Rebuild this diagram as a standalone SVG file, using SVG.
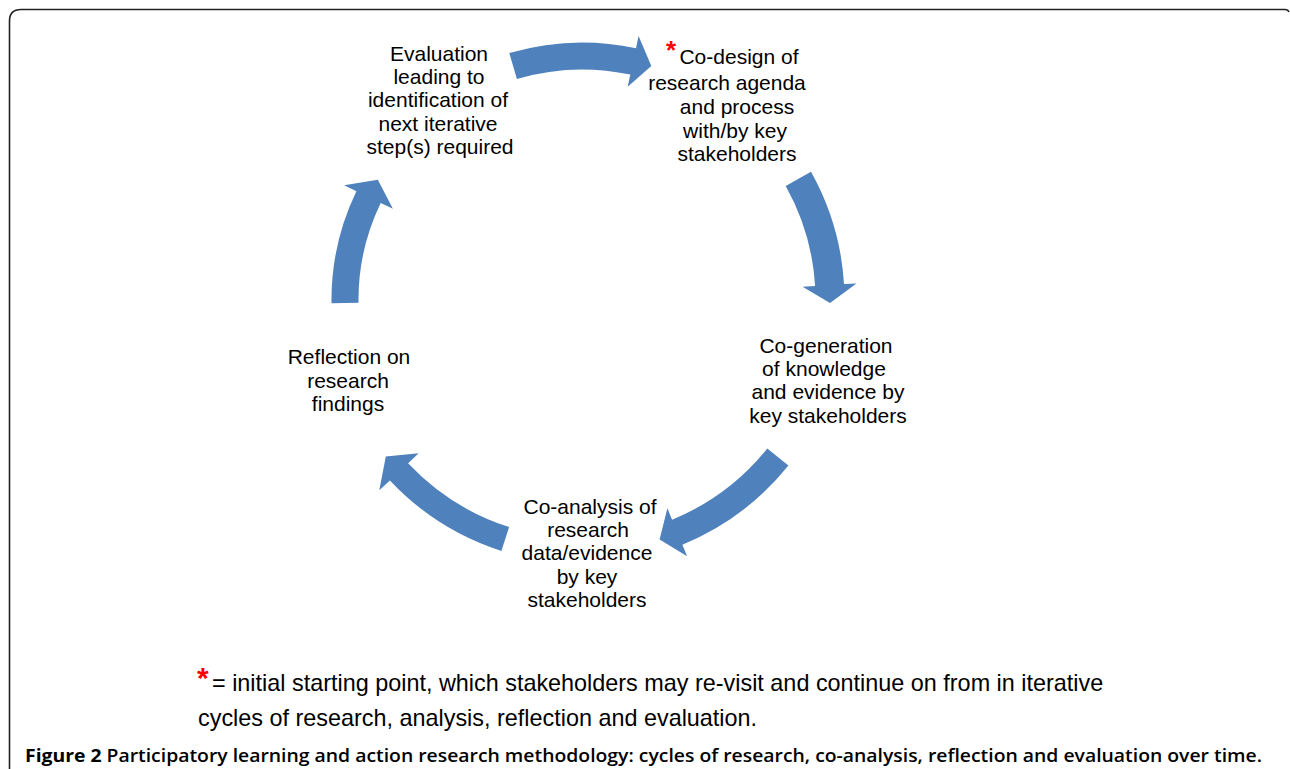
<svg xmlns="http://www.w3.org/2000/svg" width="1290" height="769" viewBox="0 0 1290 769">
<style>
.t{font-family:"Liberation Sans",Arial,sans-serif;font-size:21px;fill:#000;text-anchor:middle}
.fn{font-family:"Liberation Sans",Arial,sans-serif;font-size:23.4px;fill:#000}
.star{font-family:"Liberation Sans",Arial,sans-serif;font-weight:bold;fill:#ff0000}
.arrow{fill:#4f81bd}
.cap{font-family:"Open Sans","Noto Sans",sans-serif;font-size:17.5px;fill:#000}
</style>
<rect width="1290" height="769" fill="#fff"/>
<path d="M9.5 769 V21 Q9.5 9.5 21 9.5 H1285 Q1288 9.5 1289 12" fill="none" stroke="#222" stroke-width="1.6"/>
<g id="connectors">
<path class="arrow" d="M509.3 53 A257.5 257.5 0 0 1 636 48.2 L638.6 36 L651.3 66.1 L627.7 86.8 L630.3 74.6 A230.5 230.5 0 0 0 516.9 78.9 Z"/>
<path class="arrow" d="M811 171.7 A262.5 262.5 0 0 1 844 284.1 L856.5 283.4 L830 303 L802.6 286.7 L815.1 285.9 A233.5 233.5 0 0 0 785.7 185.9 Z"/>
<path class="arrow" d="M788.4 465.4 A264.5 264.5 0 0 1 682.4 544.7 L687.1 556.3 L659.6 539.5 L667.4 508.2 L672.1 519.7 A237.5 237.5 0 0 0 767.3 448.5 Z"/>
<path class="arrow" d="M501.4 550.9 A263.5 263.5 0 0 1 389.9 480.4 L379.3 490.3 L385.8 456.6 L418.7 453.3 L408.1 463.3 A238.5 238.5 0 0 0 509.1 527.1 Z"/>
<path class="arrow" d="M331.5 303.2 A250.5 250.5 0 0 1 356.4 191.2 L344.2 185.3 L377.8 179.7 L392.9 208.8 L380.7 202.9 A223.5 223.5 0 0 0 358.5 302.8 Z"/>
</g>
<g id="node-evaluation">
<text class="t" x="439" y="61">Evaluation</text>
<text class="t" x="439" y="84">leading to</text>
<text class="t" x="438" y="107">identification of</text>
<text class="t" x="438" y="131">next iterative</text>
<text class="t" x="440" y="154">step(s) required</text>
</g>
<g id="node-codesign">
<text class="star" x="666" y="59" font-size="26">*</text>
<text class="t" x="739" y="64">Co-design of</text>
<text class="t" x="727" y="90">research agenda</text>
<text class="t" x="737" y="114">and process</text>
<text class="t" x="735" y="138">with/by key</text>
<text class="t" x="737" y="161">stakeholders</text>
</g>
<g id="node-cogeneration">
<text class="t" x="826" y="353">Co-generation</text>
<text class="t" x="824" y="376">of knowledge</text>
<text class="t" x="828" y="399">and evidence by</text>
<text class="t" x="828" y="423">key stakeholders</text>
</g>
<g id="node-reflection">
<text class="t" x="349" y="364">Reflection on</text>
<text class="t" x="348" y="388">research</text>
<text class="t" x="348" y="411">findings</text>
</g>
<g id="node-coanalysis">
<text class="t" x="590" y="514">Co-analysis of</text>
<text class="t" x="588" y="537">research</text>
<text class="t" x="587" y="560">data/evidence</text>
<text class="t" x="587" y="584">by key</text>
<text class="t" x="587" y="607">stakeholders</text>
</g>
<g id="footnote">
<text class="star" x="197" y="688" font-size="30">*</text>
<text class="fn" x="212" y="691">= initial starting point, which stakeholders may re-visit and continue on from in iterative</text>
<text class="fn" x="198" y="726">cycles of research, analysis, reflection and evaluation.</text>
</g>
<g id="caption">
<text class="cap" x="25" y="762" textLength="1237" lengthAdjust="spacingAndGlyphs"><tspan font-weight="700">Figure 2</tspan><tspan font-weight="600"> Participatory learning and action research methodology: cycles of research, co-analysis, reflection and evaluation over time.</tspan></text>
</g>
</svg>
